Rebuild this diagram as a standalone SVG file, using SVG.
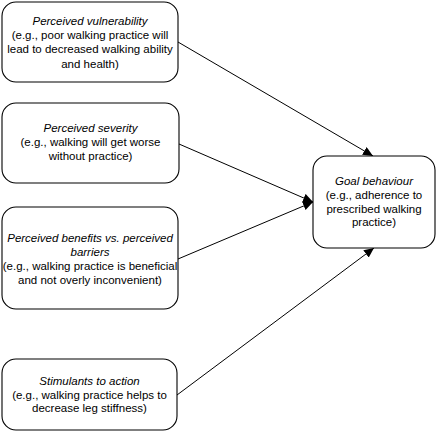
<svg xmlns="http://www.w3.org/2000/svg" width="437" height="432" viewBox="0 0 437 432">
<defs>
<marker id="arr" markerUnits="userSpaceOnUse" markerWidth="11" markerHeight="9" refX="10" refY="4.5" orient="auto">
<path d="M0,0 L10,4.5 L0,9 z" fill="#000"/>
</marker>
</defs>
<style>
.box{fill:#fff;stroke:#000;stroke-width:1.1}
text{font-family:"Liberation Sans",Arial,sans-serif;font-size:11.5px;fill:#000;text-anchor:middle}
.t{font-style:italic}
.c{stroke:#000;stroke-width:1;fill:none;marker-end:url(#arr)}
</style>
<g id="connectors">
<line class="c" x1="178" y1="42" x2="373" y2="156"/>
<line class="c" x1="179" y1="144" x2="313" y2="202"/>
<line class="c" x1="178" y1="259" x2="313" y2="202"/>
<line class="c" x1="177" y1="395" x2="374" y2="248"/>
</g>
<g id="n1">
<rect class="box" x="2" y="2" width="176" height="80" rx="14"/>
<text x="90" y="25"><tspan class="t">Perceived vulnerability</tspan><tspan x="90" dy="14.2">(e.g., poor walking practice will</tspan><tspan x="90" dy="14.2">lead to decreased walking ability</tspan><tspan x="90" dy="14.2">and health)</tspan></text>
</g>
<g id="n2">
<rect class="box" x="2" y="103" width="177" height="80" rx="14"/>
<text x="90.5" y="132"><tspan class="t">Perceived severity</tspan><tspan x="90.5" dy="14">(e.g., walking will get worse</tspan><tspan x="90.5" dy="14">without practice)</tspan></text>
</g>
<g id="n3">
<rect class="box" x="2" y="207" width="176" height="102" rx="14"/>
<text x="90" y="241.5"><tspan class="t">Perceived benefits vs. perceived</tspan><tspan x="90" dy="14" class="t">barriers</tspan><tspan x="90" dy="14">(e.g., walking practice is beneficial</tspan><tspan x="90" dy="14">and not overly inconvenient)</tspan></text>
</g>
<g id="n4">
<rect class="box" x="2" y="359" width="175" height="71" rx="14"/>
<text x="89.5" y="385"><tspan class="t">Stimulants to action</tspan><tspan x="89.5" dy="13.6">(e.g., walking practice helps to</tspan><tspan x="89.5" dy="13.6">decrease leg stiffness)</tspan></text>
</g>
<g id="goal">
<rect class="box" x="313" y="156" width="122" height="92" rx="14"/>
<text x="374" y="185"><tspan class="t">Goal behaviour</tspan><tspan x="374" dy="13.8">(e.g., adherence to</tspan><tspan x="374" dy="13.8">prescribed walking</tspan><tspan x="374" dy="13.8">practice)</tspan></text>
</g>
</svg>
